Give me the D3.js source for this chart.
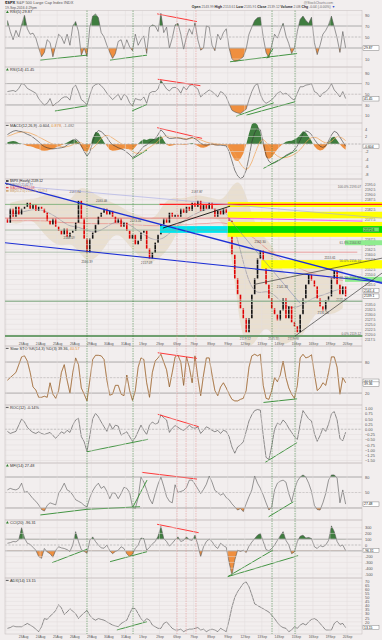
<!DOCTYPE html>
<html>
<head>
<meta charset="utf-8">
<script src="https://cdn.jsdelivr.net/npm/d3@7"></script>
<style>
  body { margin: 0; background: #f2eeee; }
  svg { display: block; font-family: "Liberation Sans", Arial, sans-serif; }
</style>
</head>
<body>
<svg id="chart" width="382" height="640"></svg>
<script>
// ---- data (6 samples per trading day, 22Aug .. 19Sep 2016) ----
const perDay = 6;
const dayLabels = ["23Aug","24Aug","25Aug","26Aug","29Aug","30Aug","31Aug","1Sep","2Sep","6Sep",
  "7Sep","8Sep","9Sep","12Sep","13Sep","14Sep","15Sep","16Sep","19Sep","20Sep"];

const closes = [
  2176,2183,2179,2184,2180,2183, 2184,2186,2183,2185,2182,2184,
  2183,2181,2177,2175,2178,2174, 2172,2170,2173,2169,2171,2172,
  2176,2187,2178,2168,2161,2168, 2171,2175,2179,2181,2183,2180,
  2182,2179,2176,2178,2174,2176, 2172,2168,2170,2165,2167,2171,
  2172,2163,2158,2161,2166,2170, 2175,2178,2176,2181,2179,2180,
  2179,2183,2181,2184,2182,2186, 2184,2187,2182,2185,2183,2186,
  2183,2179,2182,2180,2183,2181, 2177,2160,2148,2140,2133,2128,
  2121,2128,2140,2148,2158,2162, 2155,2145,2138,2133,2130,2127,
  2132,2138,2128,2134,2126,2124, 2121,2130,2138,2145,2150,2147,
  2144,2138,2134,2132,2137,2139, 2148,2152,2145,2140,2144,2139
];
const firstOpen = 2178;

// two samples per day
const bbUpper = [2186,2187,2188,2188,2190,2191,2189,2186,2194,2193,2190,2188,2186,2184,2181,2180,2178,2178,2186,2189,
  2188,2189,2190,2189,2188,2187,2195,2198,2185,2172,2168,2163,2150,2148,2155,2158,2155,2152,2156,2154];
const bbLower = [2176,2175,2178,2176,2170,2166,2164,2166,2162,2156,2158,2163,2170,2170,2164,2160,2155,2157,2160,2166,
  2175,2178,2179,2179,2178,2177,2160,2120,2112,2118,2125,2118,2114,2117,2117,2125,2132,2130,2130,2133];
const ma50 = [2180,2181,2182,2183,2182,2180,2177,2174,2174,2172,2171,2173,2176,2177,2175,2172,2169,2167,2168,2172,
  2176,2179,2181,2183,2183,2182,2178,2162,2145,2140,2142,2140,2135,2133,2134,2137,2139,2140,2142,2143];
const ma200 = [2177,2177,2177,2177,2177,2176.5,2176,2176,2176,2175.5,2175.5,2175.5,2175.5,2175.5,2175,2175,2174.5,2174.5,2174.5,2174.5,
  2175,2175,2175.5,2175.5,2176,2176,2175,2173,2170,2167,2163,2160,2157,2155,2153,2151,2150,2149,2148,2147];

const rsi5 = [
  80,60,45,62,50,72, 90,65,55,57,48,30, 14,22,45,40,14,35, 55,50,38,55,35,70,
  78,60,17,30,15,68, 88,92,85,58,50,35, 22,11,20,42,45,28, 45,32,25,55,35,45,
  52,20,68,72,70,60, 93,58,68,30,48,72, 75,55,28,50,65,55, 76,45,26,30,70,68,
  35,25,55,45,58,65, 30,10,6,7,10,14, 28,55,68,80,85,86, 50,22,12,35,55,48,
  62,75,52,38,20,30, 60,82,88,80,75,86, 40,18,35,55,62,72, 88,68,48,22,60,30
];
const rsi14 = [
  55,56,57,55,61,70, 68,61,58,55,52,42, 35,30,33,42,28,33, 36,42,45,45,39,62,
  67,55,40,36,30,48, 64,68,70,66,60,52, 46,40,45,50,39,50, 46,34,28,42,40,39,
  45,33,52,55,55,60, 76,68,60,56,62,63, 60,52,64,58,66,68, 64,60,45,50,54,58,
  55,50,45,55,52,45, 32,20,17,15,14,18, 22,40,55,66,70,50, 38,33,36,40,45,52,
  55,50,52,48,42,39, 52,64,64,67,68,70, 55,52,45,52,55,60, 70,58,52,45,55,42
];
const macdLine = [
  2.5,3.0,3.4,3.6,3.4,3.3, 3.0,2.6,2.3,1.8,1.2,0.6, -0.2,-0.7,-1.0,-1.2,-1.3,-1.2,
  -1.1,-1.0,-0.8,-0.3,0.3,1.0, 1.3,0.8,-0.5,-2.0,-3.2,-2.2, 0.5,2.8,3.6,3.3,2.6,1.8,
  0.6,-0.2,-0.6,-1.0,-1.3,-1.6, -2.2,-2.8,-3.6,-3.2,-2.4,-1.5, -0.6,-0.3,0.5,1.0,1.4,2.5,
  3.8,3.0,1.9,1.5,1.5,1.6, 1.6,1.5,1.3,1.2,1.5,1.8, 1.4,0.9,0.2,-0.2,-0.3,-0.1,
  0.0,-0.2,-0.3,-0.3,-0.4,-0.5, -2.0,-4.5,-7.0,-8.5,-9.2,-8.8, -7.0,-3.5,0.5,3.0,4.3,3.8,
  0.5,-3.0,-4.6,-5.2,-5.0,-4.6, -4.2,-3.6,-3.0,-2.6,-2.2,-1.5, -0.5,1.0,2.8,3.5,3.2,2.5,
  1.2,0.2,-0.6,-0.9,-0.5,0.8, 2.4,3.4,3.0,1.8,0.6,-0.6
];
const macdSignal = [
  2.0,2.3,2.6,2.9,3.1,3.2, 3.2,3.1,2.9,2.6,2.3,1.9, 1.5,1.1,0.7,0.3,0.0,-0.3,
  -0.5,-0.7,-0.8,-0.7,-0.5,-0.2, 0.2,0.4,0.3,-0.2,-0.9,-1.4, -1.2,-0.4,0.6,1.5,2.1,2.3,
  2.1,1.6,1.1,0.6,0.1,-0.4, -0.9,-1.4,-2.0,-2.4,-2.5,-2.3, -1.9,-1.4,-0.9,-0.4,0.1,0.7,
  1.5,2.0,2.1,2.0,1.9,1.8, 1.7,1.6,1.5,1.4,1.4,1.5, 1.5,1.4,1.1,0.8,0.5,0.3,
  0.2,0.1,0.0,-0.1,-0.2,-0.3, -0.7,-1.5,-2.7,-4.0,-5.3,-6.3, -6.8,-6.3,-4.8,-2.8,-0.8,0.8,
  1.2,0.5,-0.6,-1.7,-2.6,-3.2, -3.6,-3.7,-3.6,-3.4,-3.1,-2.7, -2.2,-1.5,-0.6,0.4,1.2,1.7,
  1.8,1.6,1.1,0.6,0.3,0.3, 0.7,1.4,2.0,1.9,1.5,0.9
];
const macdHist = [
  0.5,0.7,0.8,0.7,0.3,0.1, -0.2,-0.5,-0.6,-0.8,-1.1,-1.3, -1.7,-1.8,-1.7,-1.5,-1.3,-0.9,
  -0.6,-0.3,0.0,0.4,0.8,1.2, 1.1,0.4,-0.8,-1.8,-2.3,-0.8, 1.7,3.2,3.0,1.8,0.5,-0.5,
  -1.5,-1.8,-1.7,-1.6,-1.4,-1.2, -1.3,-1.4,-1.6,-0.8,0.1,0.8, 1.3,1.1,1.4,1.4,1.3,1.8,
  2.3,1.0,-0.2,-0.5,-0.4,-0.2, -0.1,-0.1,-0.2,-0.2,0.1,0.3, -0.1,-0.5,-0.9,-1.0,-0.8,-0.4,
  -0.2,-0.3,-0.3,-0.2,-0.2,-0.2, -1.3,-3.0,-4.3,-4.5,-3.9,-2.5, -0.2,2.8,5.3,5.8,5.1,3.0,
  -0.7,-3.5,-4.0,-3.5,-2.4,-1.4, -0.6,0.1,0.6,0.8,0.9,1.2, 1.7,2.5,3.4,3.1,2.0,0.8,
  -0.6,-1.4,-1.7,-1.5,-0.8,0.5, 1.7,2.0,1.0,-0.1,-0.9,-1.5
];
const stoK = [
  45,50,55,60,75,90, 92,82,60,32,26,12, 12,14,12,40,18,10, 25,60,75,45,20,60,
  88,75,30,18,5,45, 85,93,93,92,85,45, 16,18,35,35,18,15, 55,25,6,25,70,88,
  85,40,12,60,82,88, 95,80,65,32,60,90, 93,80,35,90,70,40, 92,50,15,55,88,88,
  55,25,15,32,40,30, 18,8,5,5,8,10, 25,70,92,95,92,95, 35,10,8,25,50,42,
  55,82,50,30,18,10, 35,88,95,88,90,94, 58,25,30,40,35,60, 90,90,70,18,50,40
];
const roc12 = [
  -0.1,-0.2,-0.15,-0.1,0.2,0.5, 0.35,0.1,-0.05,-0.15,-0.2,-0.12, -0.2,-0.25,-0.2,-0.15,-0.3,-0.43,
  -0.28,-0.12,-0.2,-0.05,-0.15,0.2, 0.45,0.53,-0.35,-0.6,-1.07,-0.3, 0.5,0.77,0.6,0.35,0.12,-0.1,
  0.28,0.0,0.2,0.15,-0.28,-0.2, -0.12,-0.35,-0.58,-0.4,-0.1,0.2, -0.05,-0.25,0.2,0.35,0.25,0.3,
  0.7,0.55,0.45,-0.15,0.05,0.18, 0.1,0.0,-0.05,0.05,0.2,0.08, 0.05,0.12,-0.2,-0.05,0.12,0.05,
  -0.05,-0.12,-0.05,-0.2,-0.05,-0.1, -0.35,-0.85,-1.15,-0.85,-0.75,-0.6, -0.1,0.4,0.7,0.9,0.95,0.92,
  -0.3,-1.35,-1.45,-0.8,0.0,0.3, 0.22,0.45,0.3,0.05,-0.15,-0.35, -0.5,0.25,0.9,0.7,0.5,0.4,
  -0.2,-0.58,-0.3,0.05,-0.1,0.25, 0.75,0.85,0.45,-0.45,-0.55,-0.14
];
const mfi14 = [
  55,58,56,55,58,68, 50,52,45,38,33,26, 17,14,25,30,28,26, 48,57,68,55,52,45,
  36,33,30,25,22,40, 53,62,68,58,62,52, 38,50,48,38,48,60, 58,50,22,19,40,80,
  70,55,38,28,48,66, 80,62,42,33,30,65, 50,52,54,60,74,74, 66,57,48,56,66,82,
  70,54,50,45,48,40, 36,28,22,16,19,13, 28,42,55,82,68,58, 45,30,16,22,55,68,
  72,74,70,48,32,55, 72,80,84,80,68,52, 25,17,16,30,48,74, 84,84,78,30,55,27.5
];
const cci20 = [
  30,40,60,55,90,300, 120,30,10,-40,-90,-200, -230,-60,-120,-150,-210,-90, -30,-50,-60,-80,-110,0,
  230,60,-80,-110,-140,80, 140,60,0,-50,-55,0, -100,-150,-110,-90,-30,-60, -150,-200,-160,-60,0,120,
  110,-90,-40,20,60,150, 320,110,60,-20,30,90, 140,60,80,140,90,80, 170,0,-200,-30,60,100,
  60,-20,-60,30,-10,-40, -300,-520,-260,-90,-110,-90, -130,-20,50,110,170,200, 60,-80,-100,-60,0,80,
  160,230,80,0,-150,-120, 60,150,170,120,130,110, -30,-60,-10,-30,0,80, 330,230,60,-20,0,-96
];
const adx14 = [
  12,13,15,14,14,14, 16,18,16,14,11,8, 14,24,23,27,30,34, 41,37,29,32,36,33,
  30,24,28,31,34,28, 24,22,24,23,22,20, 18,16,15,14,18,20, 22,30,37,36,30,24,
  20,24,22,16,14,12, 12,18,20,16,12,10, 10,11,8,10,11,11, 12,13,10,11,8,10,
  11,10,8,12,10,8, 22,38,50,57,62,67, 69,63,53,42,40,38, 36,34,32,28,24,19,
  15,13,12,8,10,14, 12,16,18,16,20,23, 24,22,18,14,10,10, 10,18,21,17,18,13
];

// annotations: [day1, value1, day2, value2, colour]
const rsi5Lines = [[2.0,8,4.75,17,"g"],[6.1,8,8.27,17,"g"],[8.86,92,11.2,78,"r"],[13.14,5,17.07,20,"g"],[15.3,11,15.66,29,"g"]];
const rsi14Lines = [[2.87,18.7,4.75,28.6,"g"],[7.4,19,8.27,31,"g"],[8.9,78,11.4,66,"r"],[13.5,9,15.7,34,"g"],[14.1,11,16.95,36,"g"]];
const macdLines = [[8.86,4.35,11.5,1.5,"r"],[7.4,-4,8.27,-1.6,"g"],[15.1,-6.5,17.07,-1.6,"g"]];
const stoLines = [[8.9,98,11.2,87,"r"],[15.1,2,17.07,9,"g"]];
const rocLines = [[4.75,-1.08,8.33,-0.48,"g"],[8.9,0.72,11.3,0.125,"r"],[15.2,-1.59,17.07,-0.64,"g"]];
const mfiLines = [[2.0,6.4,4.75,17.4,"g"],[4.75,17.4,7.86,22.4,"g"],[7.45,22.4,8.27,74,"g"],[7.97,89,11.2,76,"r"],[15.4,3,16.85,32,"g"]];
const cciLines = [[2.7,-305,4.75,-74,"g"],[6.1,-288,8.27,-115,"g"],[8.86,357,11.3,212,"r"],[13.0,-546,15.66,-86,"g"],[13.0,-546,17.13,-184,"g"]];
const adxLines = [[6.5,10,8.27,20.2,"g"]];
const markerDays = [[4.75,"g"],[7.45,"g"],[10.03,"r"],[10.56,"r"],[11.14,"r"],[15.6,"g"],[16.95,"g"]];

// main panel drawings: [day1, price1, day2, price2, colour, width]
const mainLines = [
  [-0.06,2195.9,22.05,2145.6,"#1c2fd6",1.3],
  [-0.35,2166.2,22.05,2146.1,"#1c2fd6",1.1],
  [1.4,2193.9,22.05,2178.3,"#a4a8e6",0.6],
  [9.2,2173.3,13.14,2184.3,"#111111",0.9],
  [13.0,2178.8,17.24,2135.6,"#6f7fb5",0.5],
  [14.6,2145.1,22.05,2158.2,"#222222",0.6],
  [16.95,2119.1,22.05,2150.7,"#222222",0.6],
  [13.0,2178.3,20.9,2176.8,"#ff33ff",0.8]
];
// [price, day1, day2, colour, width]
const levels = [
  [2185.2,-0.1,9.0,"#4a9a4a",0.6],[2185.2,9.0,22.05,"#ff2020",1.1],
  [2178.3,-0.1,13.0,"#e04040",0.6],[2172.3,-0.1,13.0,"#8aa88a",0.6],
  [2161.2,-0.1,14.97,"#8aa88a",0.6],[2161.2,14.97,20.6,"#e05050",0.5],
  [2136.6,-0.1,20.9,"#9bb89b",1.6],[2119.12,-0.1,20.9,"#6f9f6f",1.8]
];
// [day1, day2, price1, price2, colour]
const bands = [
  [13.0,22.05,2186.4,2183.9,"#ffff00"],[13.0,22.05,2181.5,2178.2,"#ffff00"],
  [13.0,22.05,2176.4,2168.9,"#ffff00"],[13.0,22.05,2174.3,2170.9,"#00dd00"],
  [9.03,13.0,2174.3,2170.9,"#00e5ee"],[14.97,22.05,2157.2,2153.0,"#ffff00"],
  [19.88,22.05,2167.2,2164.7,"#8fec8f"],[19.88,22.05,2148.8,2146.3,"#8fec8f"]
];
const fibLabels = [[2193.07,"100.0% 2193.07"],[2164.82,"61.8% 2164.82"],[2156.10,"50.0% 2156.10"],
  [2147.37,"38.2% 2147.37"],[2119.12,"0.0% 2119.12"]];
const priceNotes = [[4.05,2190.8,"2187.94"],[5.6,2186.2,"2183.48"],[3.7,2168.0,"2168.59"],[4.75,2155.9,"2160.39"],
  [7.6,2176.4,"2173.56"],[8.25,2155.5,"2157.09"],[11.2,2190.8,"2187.87"],[14.03,2117.3,"2119.12"],
  [14.9,2166.0,"2163.30"],[15.7,2117.3,"2125.55"],[16.85,2117.3,"2119.90"],[16.2,2143.0,"2141.33"],
  [17.8,2153.6,"2151.31"],[19.0,2157.9,"2153.61"],[18.6,2130.2,"2131.20"],[19.7,2136.6,"2135.91"]];

// current-value boxes on the right axis: [value, text, fill]
const boxes = {
  rsi5: [[30, "29.87"]], rsi14: [[41.45, "41.45"]], macd: [[-0.6, "-0.604"]],
  main: [[2172.6, "2172.6", "#66ee66"], [2142.0, "2141.4"], [2139.12, "2139.1"]],
  sto: [[43, "40.57"], [37.5, "39.36"]], roc: [], mfi: [[27.48, "27.48"]],
  cci: [[-96.31, "-96.31"]], adx: [[13, "13.15"]]
};

// ---- drawing ----
const W = 382, H = 640, L = 5, R = 362;
const svg = d3.select("#chart");
const x = d3.scaleLinear().domain([0, 20]).range([6, 347.05]);
const xi = i => x((i + 0.5) / perDay);
const xh = j => x((j + 0.5) / 2);
const FS = 3.9;
let clipId = 0;

function clipRect(x0, y0, w, h) {
  const id = "clip" + (clipId++);
  svg.append("clipPath").attr("id", id).append("rect")
    .attr("x", x0).attr("y", y0).attr("width", w).attr("height", h);
  return `url(#${id})`;
}

const panels = {
  rsi5:  { top: 10.5, bot: 67,  y: d3.scaleLinear().domain([0, 100]).range([64.5, 9.5]), ticks: [10,30,50,70,90] },
  rsi14: { top: 67,   bot: 123, y: d3.scaleLinear().domain([0, 100]).range([121, 67.5]), ticks: [10,30,50,70,90] },
  macd:  { top: 123,  bot: 179, y: d3.scaleLinear().domain([0, 1]).range([144, 140.25]), ticks: [-8,-6,-4,-2,0,2,4] },
  main:  { top: 179,  bot: 346, y: d3.scaleLinear().domain([2119.12, 2187.9]).range([336, 199]), ticks: d3.range(2117.5, 2196, 2.5) },
  sto:   { top: 346,  bot: 405, y: d3.scaleLinear().domain([0, 100]).range([403.5, 351.7]), ticks: [20,50,80] },
  roc:   { top: 405,  bot: 463, y: d3.scaleLinear().domain([0, 1]).range([429.3, 408.5]), ticks: d3.range(-1.5, 1.01, 0.25) },
  mfi:   { top: 463,  bot: 520, y: d3.scaleLinear().domain([0, 100]).range([518.3, 466.7]), ticks: [20,50,80] },
  cci:   { top: 520,  bot: 578, y: d3.scaleLinear().domain([0, 100]).range([545, 539.2]), ticks: [-500,-400,-300,-200,-100,0,100,200,300] },
  adx:   { top: 578,  bot: 634, y: d3.scaleLinear().domain([10, 70]).range([630, 581]), ticks: d3.range(10, 71, 5) }
};
const tickFmt = { main: d3.format(".1f"), roc: d3.format(".2f") };

// panel frames, grids, axes
Object.entries(panels).forEach(([key, p]) => {
  p.g = svg.append("g").attr("clip-path", clipRect(L, p.top, R - L, p.bot - p.top));
  const grid = svg.append("g").attr("clip-path", clipRect(L, p.top, R - L, p.bot - p.top));
  grid.selectAll("line.v").data(d3.range(0, 21)).join("line")
    .attr("x1", d => x(d)).attr("x2", d => x(d)).attr("y1", p.top).attr("y2", p.bot)
    .attr("stroke", "#e2dcdc").attr("stroke-width", 0.5);
  grid.selectAll("line.h").data(p.ticks).join("line")
    .attr("x1", L).attr("x2", R).attr("y1", d => p.y(d)).attr("y2", d => p.y(d))
    .attr("stroke", "#e2dcdc").attr("stroke-width", 0.5);
  svg.append("rect").attr("x", L).attr("y", p.top).attr("width", R - L).attr("height", p.bot - p.top)
    .attr("fill", "none").attr("stroke", "#c4bcbc").attr("stroke-width", 0.5);
  // leave out tick labels hidden behind a value box
  const shown = p.ticks.filter(t => boxes[key].every(b => Math.abs(p.y(t) - p.y(b[0])) > 4.2));
  const ax = svg.append("g").attr("transform", `translate(${R},0)`)
    .call(d3.axisRight(p.y).tickValues(shown).tickSize(0).tickPadding(3)
      .tickFormat(tickFmt[key] || (d => d)));
  ax.select(".domain").remove();
  ax.selectAll("text").attr("font-size", key === "main" ? 3.4 : FS).attr("fill", "#555")
    .attr("font-family", "Liberation Sans, Arial, sans-serif");
});

// date axes
[345.6, 638.5].forEach(yy => {
  const ax = svg.append("g").attr("transform", `translate(0,${yy - 3})`)
    .call(d3.axisBottom(x).tickValues(d3.range(1, 21)).tickFormat(d => dayLabels[d - 1]).tickSize(0).tickPadding(0.5));
  ax.select(".domain").remove();
  ax.selectAll("text").attr("font-size", 3.3).attr("fill", "#555")
    .attr("font-family", "Liberation Sans, Arial, sans-serif");
});

function thresholdFill(p, data, thr, above, color) {
  const yt = p.y(thr);
  const c = above ? clipRect(0, 0, W, yt) : clipRect(0, yt, W, H - yt);
  p.g.append("path").datum(data).attr("clip-path", c)
    .attr("d", d3.area().x((d, i) => xi(i)).y0(yt).y1(d => p.y(d)))
    .attr("fill", color);
}
function refLine(p, v, dashed, color) {
  p.g.append("line").attr("x1", L).attr("x2", R).attr("y1", p.y(v)).attr("y2", p.y(v))
    .attr("stroke", color || "#8a8a8a").attr("stroke-width", dashed ? 0.5 : 0.8)
    .attr("stroke-dasharray", dashed ? "2,1.5" : null);
}
function seriesLine(p, data, color, width) {
  p.g.append("path").datum(data).attr("fill", "none").attr("stroke", color).attr("stroke-width", width)
    .attr("stroke-linejoin", "round")
    .attr("d", d3.line().x((d, i) => xi(i)).y(d => p.y(d)));
}
function trendLines(p, lines) {
  p.g.selectAll(null).data(lines).join("line")
    .attr("x1", d => x(d[0])).attr("y1", d => p.y(d[1]))
    .attr("x2", d => x(d[2])).attr("y2", d => p.y(d[3]))
    .attr("stroke", d => d[4] === "r" ? "#ff2222" : "#2f8a2f").attr("stroke-width", 0.9);
}
function valueBoxes(key) {
  const p = panels[key];
  boxes[key].forEach(([v, txt, fill]) => {
    const yy = p.y(v);
    svg.append("rect").attr("x", 363).attr("y", yy - 2.2).attr("width", 16).attr("height", 4.4)
      .attr("fill", fill || "#ffffff").attr("stroke", "#666").attr("stroke-width", 0.4);
    svg.append("text").attr("x", 364).attr("y", yy + 1.3).attr("font-size", 3.4).attr("fill", "#111").text(txt);
  });
}
function legend(p, parts, icon, dy) {
  const yy = p.top + (dy || 3.6);
  if (icon === "tri") {
    svg.append("path").attr("d", `M${L + 1},${yy} l1.4,-2.6 l1.4,2.6 z`).attr("fill", "#2f7f2f");
  } else {
    svg.append("line").attr("x1", L + 0.8).attr("x2", L + 3.6).attr("y1", yy - 1.2).attr("y2", yy - 1.2)
      .attr("stroke", icon || "#333").attr("stroke-width", 0.8);
  }
  const t = svg.append("text").attr("x", L + 5).attr("y", yy).attr("font-size", FS);
  parts.forEach(([s, c]) => t.append("tspan").attr("fill", c || "#333").text(s));
}

// RSI(5)
{
  const p = panels.rsi5;
  thresholdFill(p, rsi5, 70, true, "#3f7d3f");
  thresholdFill(p, rsi5, 30, false, "#ef8f3f");
  refLine(p, 70); refLine(p, 30); refLine(p, 50, true);
  seriesLine(p, rsi5, "#555", 0.6);
  trendLines(p, rsi5Lines);
  legend(p, [["RSI(5) 29.87"]], "tri", 2.6);
}
// RSI(14)
{
  const p = panels.rsi14;
  thresholdFill(p, rsi14, 70, true, "#3f7d3f");
  thresholdFill(p, rsi14, 30, false, "#ef8f3f");
  refLine(p, 70); refLine(p, 30); refLine(p, 50, true);
  seriesLine(p, rsi14, "#555", 0.6);
  trendLines(p, rsi14Lines);
  legend(p, [["RSI(14) 41.45"]], "tri");
}
// MACD
{
  const p = panels.macd;
  thresholdFill(p, macdHist, 0, true, "#3f7d3f");
  thresholdFill(p, macdHist, 0, false, "#ef8f3f");
  refLine(p, 0, true, "#777");
  seriesLine(p, macdSignal, "#f0a050", 0.7);
  seriesLine(p, macdLine, "#333", 0.6);
  trendLines(p, macdLines);
  legend(p, [["MACD(12,26,9) -0.604, "], ["0.878", "#e08a30"], [", -1.482", "#777"]]);
}
// main price panel
{
  const p = panels.main;
  const gWide = svg.append("g").attr("clip-path", clipRect(L, p.top, W - L, p.bot - p.top));
  p.g.append("path").datum(bbUpper)
    .attr("d", d3.area().x((d, j) => xh(j)).y0((d, j) => p.y(bbLower[j])).y1(d => p.y(d)).curve(d3.curveBasis))
    .attr("fill", "#e6d9c6").attr("opacity", 0.75);
  gWide.selectAll(null).data(bands).join("rect")
    .attr("x", d => x(d[0])).attr("width", d => x(d[1]) - x(d[0]))
    .attr("y", d => p.y(d[2])).attr("height", d => p.y(d[3]) - p.y(d[2]))
    .attr("fill", d => d[4]);
  gWide.selectAll(null).data(levels).join("line")
    .attr("x1", d => x(d[1])).attr("x2", d => x(d[2]))
    .attr("y1", d => p.y(d[0])).attr("y2", d => p.y(d[0]))
    .attr("stroke", d => d[3]).attr("stroke-width", d => d[4]);
  p.g.append("path").datum(ma200).attr("fill", "none").attr("stroke", "#e86060").attr("stroke-width", 0.5)
    .attr("d", d3.line().x((d, j) => xh(j)).y(d => p.y(d)).curve(d3.curveBasis));
  p.g.append("path").datum(ma50).attr("fill", "none").attr("stroke", "#8a8aa0").attr("stroke-width", 0.6)
    .attr("d", d3.line().x((d, j) => xh(j)).y(d => p.y(d)).curve(d3.curveBasis));
  gWide.selectAll(null).data(mainLines).join("line")
    .attr("x1", d => x(d[0])).attr("y1", d => p.y(d[1]))
    .attr("x2", d => x(d[2])).attr("y2", d => p.y(d[3]))
    .attr("stroke", d => d[4]).attr("stroke-width", d => d[5]);
  // price bars from previous close to close
  const prev = i => i ? closes[i - 1] : firstOpen;
  p.g.selectAll(null).data(closes).join("rect")
    .attr("x", (d, i) => xi(i) - 0.8).attr("width", 1.6)
    .attr("y", (d, i) => p.y(Math.max(d, prev(i))))
    .attr("height", (d, i) => Math.max(0.7, Math.abs(p.y(d) - p.y(prev(i)))))
    .attr("fill", (d, i) => d < prev(i) ? "#e00000" : "#111");
  p.g.selectAll(null).data(priceNotes).join("text")
    .attr("x", d => x(d[0])).attr("y", d => p.y(d[1])).attr("text-anchor", "middle")
    .attr("font-size", 3.1).attr("fill", "#444").text(d => d[2]);
  gWide.selectAll(null).data(fibLabels).join("text")
    .attr("x", 361).attr("y", d => p.y(d[0]) - 0.8).attr("text-anchor", "end")
    .attr("font-size", 3.2).attr("fill", "#666").text(d => d[1]);
  const leg = [["$SPX (Hourly) 2139.12", "#111"], ["MA(50) 2142.77", "#6a6a90"],
    ["MA(200) 2155.03", "#e04848"], ["BB(20,2.0) 2152.6, 2129.4", "#c89a60"]];
  leg.forEach(([s, c], k) => {
    svg.append("rect").attr("x", L + 1).attr("y", p.top + 1.3 + k * 3.3).attr("width", 2.6).attr("height", 1.4).attr("fill", c);
    svg.append("text").attr("x", L + 5).attr("y", p.top + 3.2 + k * 3.3).attr("font-size", 3.2).attr("fill", c).text(s);
  });
}
// Slow stochastic
{
  const p = panels.sto;
  refLine(p, 80); refLine(p, 20); refLine(p, 50, true);
  seriesLine(p, stoK, "#d08438", 0.8);
  seriesLine(p, stoK, "#444", 0.3);
  trendLines(p, stoLines);
  legend(p, [["Slow STO %K(14,3) %D(3) 39.36, "], ["40.57", "#e08a30"]]);
}
// ROC
{
  const p = panels.roc;
  refLine(p, 0, true, "#777");
  seriesLine(p, roc12, "#444", 0.6);
  trendLines(p, rocLines);
  legend(p, [["ROC(12) -0.14%"]]);
}
// MFI
{
  const p = panels.mfi;
  thresholdFill(p, mfi14, 80, true, "#3f7d3f");
  thresholdFill(p, mfi14, 20, false, "#ef8f3f");
  refLine(p, 80); refLine(p, 20); refLine(p, 50, true);
  seriesLine(p, mfi14, "#555", 0.6);
  trendLines(p, mfiLines);
  legend(p, [["MFI(14) 27.48"]], "tri");
}
// CCI
{
  const p = panels.cci;
  thresholdFill(p, cci20, 100, true, "#3f7d3f");
  thresholdFill(p, cci20, -100, false, "#ef8f3f");
  refLine(p, 100); refLine(p, -100); refLine(p, 0, true);
  seriesLine(p, cci20, "#555", 0.6);
  trendLines(p, cciLines);
  legend(p, [["CCI(20) -96.31"]], "tri");
}
// ADX
{
  const p = panels.adx;
  seriesLine(p, adx14, "#444", 0.6);
  trendLines(p, adxLines);
  legend(p, [["ADX(14) 13.15"]]);
}
Object.keys(panels).forEach(valueBoxes);

// vertical markers across all panels
svg.selectAll(null).data(markerDays).join("line")
  .attr("x1", d => x(d[0])).attr("x2", d => x(d[0])).attr("y1", 10.5).attr("y2", 634)
  .attr("stroke", d => d[1] === "r" ? "#e58b8b" : "#2f7a2f").attr("stroke-width", 0.5)
  .attr("stroke-dasharray", "1.5,1");

// header
const hdr = svg.append("text").attr("x", 5).attr("y", 4.2).attr("font-size", 4);
hdr.append("tspan").attr("font-weight", "bold").attr("fill", "#111").text("$SPX ");
hdr.append("tspan").attr("fill", "#555").text("S&P 500 Large Cap Index  INDX");
svg.append("text").attr("x", 5).attr("y", 8.6).attr("font-size", 3.4).attr("fill", "#555").text("19-Sep-2016 4:29pm");
svg.append("text").attr("x", 333).attr("y", 3.8).attr("text-anchor", "end").attr("font-size", 3.4)
  .attr("fill", "#777").text("@StockCharts.com");
const ohlc = [["Open", "2143.99"], ["High", "2153.61"], ["Low", "2135.91"], ["Close", "2139.12"], ["Volume", "2.0B"], ["Chg", "-0.04 (-0.00%)"]];
const ot = svg.append("text").attr("x", 335).attr("y", 7.8).attr("text-anchor", "end").attr("font-size", 3.4);
ohlc.forEach(([k, v]) => {
  ot.append("tspan").attr("font-weight", "bold").attr("fill", "#222").text(k + " ");
  ot.append("tspan").attr("fill", "#666").text(v + "  ");
});
ot.append("tspan").attr("fill", "#3050d0").text("▼");
</script>
</body>
</html>
